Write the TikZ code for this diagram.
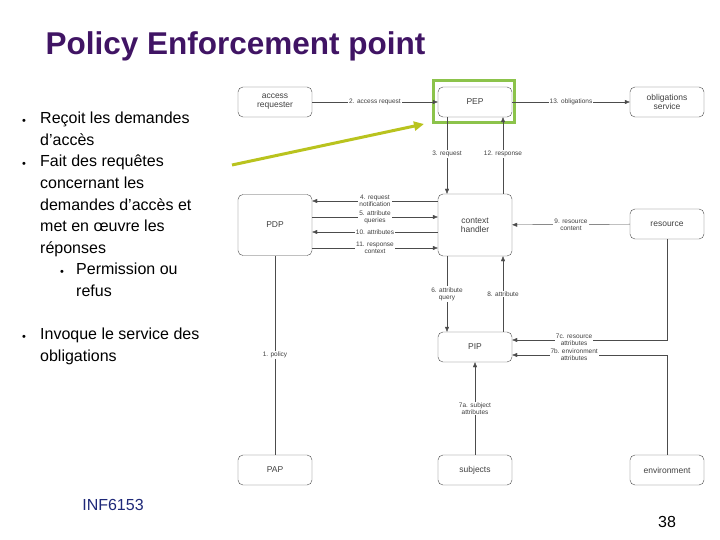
\documentclass[tikz,border=0pt]{standalone}
\usepackage{fontspec}
\setmainfont{Liberation Sans}
\usetikzlibrary{arrows, arrows.meta}
\usetikzlibrary{positioning}
\definecolor{titlepurple}{RGB}{64,20,100}
\definecolor{footblue}{RGB}{30,40,120}
\definecolor{hlgreen}{RGB}{140,195,75}
\definecolor{pointer}{RGB}{185,195,30}
\tikzset{
  box/.style={draw=black!70, rounded corners=5pt, minimum width=74pt, minimum height=30pt, align=center, font=\fontsize{8.5}{9}\selectfont, text=black!75},
  lbl/.style={fill=white, inner sep=1pt, align=center, font=\fontsize{6.5}{7}\selectfont, text=black!75},
  flow/.style={draw=black!70, -{Triangle[length=5pt,width=4pt]}},
  bullet/.style={anchor=north west, align=left, font=\fontsize{16}{21.6}\selectfont, inner sep=0pt},
  dot/.style={anchor=north west, inner sep=0pt, yshift=-7pt, font=\fontsize{11}{21.6}\selectfont}
}
\begin{document}
\begin{tikzpicture}[x=1pt, y=-1pt]
\useasboundingbox (0,0) rectangle (720,540);

\node[anchor=west, text=titlepurple, font=\fontsize{31.5}{33}\selectfont\bfseries] (title) at (42,46) {Policy Enforcement point};

\node[dot] at (22,112) {\textbullet};
\node[bullet] at (40,112) {Reçoit les demandes\\d’accès};
\node[dot] at (22,155) {\textbullet};
\node[bullet] at (40,155) {Fait des requêtes\\concernant les\\demandes d’accès et\\met en œuvre les\\réponses};
\node[dot] at (60,263) {\textbullet};
\node[bullet] at (76,263) {Permission ou\\refus};
\node[dot] at (22,328) {\textbullet};
\node[bullet] at (40,328) {Invoque le service des\\obligations};

\node[text=footblue, font=\fontsize{16}{18}\selectfont] (course) at (113,505) {INF6153};
\node[font=\fontsize{16}{18}\selectfont] (page) at (667,522) {38};

% boxes
\node[box] (req) at (275,102) {access\\requester};
\node[box] (pep) at (475,102) {PEP};
\node[box] (obl) at (667,102) {obligations\\service};
\node[box, minimum height=61pt] (pdp) at (275,225) {PDP};
\node[box, minimum height=62pt] (ctx) at (475,225) {context\\handler};
\node[box] (res) at (667,224) {resource};
\node[box] (pip) at (475,347) {PIP};
\node[box] (pap) at (275,470) {PAP};
\node[box] (sub) at (475,470) {subjects};
\node[box] (env) at (667,470) {environment};

\draw[hlgreen, line width=3pt] (433,81) rectangle (514,123);
\coordinate (tipstart) at (232,165);
\draw[pointer, line width=3pt, -{Triangle[length=10pt,width=9pt]}] (tipstart) -- (424,124);

% connectors
\draw[flow] (req) -- node[lbl] {2. access request} (pep);
\draw[flow] (pep) -- node[lbl] {13. obligations} (obl);
\draw[flow] ([xshift=-28pt]pep.south) -- node[lbl, pos=0.48] {3. request} ([xshift=-28pt]ctx.north);
\draw[flow] ([xshift=28pt]ctx.north) -- node[lbl, pos=0.52] {12. response} ([xshift=28pt]pep.south);
\draw[flow] (ctx.west |- 0,201) -- node[lbl] {4. request\\notification} (pdp.east |- 0,201);
\draw[flow] (pdp.east |- 0,217) -- node[lbl] {5. attribute\\queries} (ctx.west |- 0,217);
\draw[flow] (ctx.west |- 0,232) -- node[lbl] {10. attributes} (pdp.east |- 0,232);
\draw[flow] (pdp.east |- 0,248) -- node[lbl] {11. response\\context} (ctx.west |- 0,248);
\draw[flow] (res) -- node[lbl] {9. resource\\content} (ctx);
\draw[flow] ([xshift=-28pt]ctx.south) -- node[lbl] {6. attribute\\query} ([xshift=-28pt]pip.north);
\draw[flow] ([xshift=28pt]pip.north) -- node[lbl] {8. attribute} ([xshift=28pt]ctx.south);
\draw[flow] (res.south) |- node[lbl, pos=0.8] {7c. resource\\attributes} (pip.east |- 0,340);
\draw[flow] (env.north) |- node[lbl, pos=0.8] {7b. environment\\attributes} (pip.east |- 0,355);
\draw[flow] (sub) -- node[lbl] {7a. subject\\attributes} (pip);
\draw[draw=black!70] (pap) -- node[lbl] {1. policy} (pdp);
\end{tikzpicture}
\end{document}
